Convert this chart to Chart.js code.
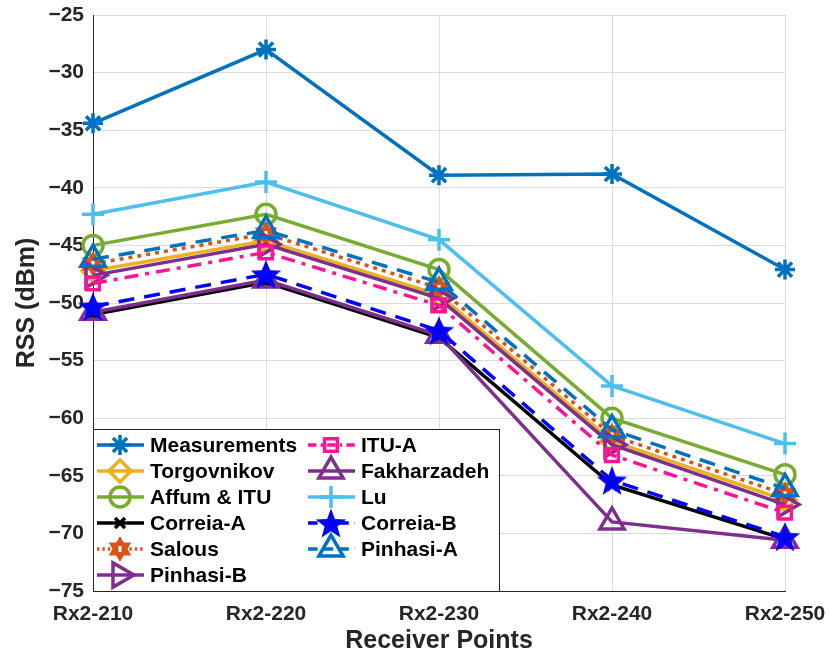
<!DOCTYPE html>
<html>
<head>
<meta charset="utf-8">
<script src="https://cdn.jsdelivr.net/npm/chart.js@4.4.1/dist/chart.umd.min.js"></script>
<style>
  html, body { margin: 0; padding: 0; background: #fff; }
  #wrap { width: 831px; height: 656px; }
</style>
</head>
<body>
<div id="wrap"><canvas id="rss" width="831" height="656"></canvas></div>
<script>
// receiver points on the x axis
const receiverPoints = ['Rx2-210', 'Rx2-220', 'Rx2-230', 'Rx2-240', 'Rx2-250'];
const yTicks = [-25, -30, -35, -40, -45, -50, -55, -60, -65, -70, -75];

// RSS values (dBm)
const measurements = [-34.4, -28.0, -38.9, -38.8, -47.1];
const torgovnikov  = [-47.2, -44.6, -49.3, -62.0, -67.1];
const affumItu     = [-45.0, -42.3, -47.1, -60.0, -64.9];
const correiaA     = [-51.0, -48.2, -53.0, -65.8, -70.5];
const salous       = [-46.6, -44.0, -48.7, -61.5, -66.6];
const pinhasiB     = [-47.6, -44.9, -49.6, -62.3, -67.5];
const ituA         = [-48.3, -45.6, -50.2, -63.2, -68.2];
const fakharzadeh  = [-50.8, -48.0, -52.8, -69.0, -70.6];
const lu           = [-42.3, -39.5, -44.5, -57.2, -62.2];
const correiaB     = [-50.3, -47.5, -52.4, -65.4, -70.3];
const pinhasiA     = [-46.2, -43.7, -48.2, -61.0, -66.1];

// custom marker images
function hexagram(color, r) {
  const c = document.createElement('canvas');
  c.width = c.height = r * 2 + 4;
  const g = c.getContext('2d');
  const cx = r + 2, cy = r + 2;
  g.fillStyle = color;
  for (const off of [-Math.PI / 2, Math.PI / 2]) {
    g.beginPath();
    for (let i = 0; i < 3; i++) {
      const a = off + i * 2 * Math.PI / 3;
      g.lineTo(cx + r * Math.cos(a), cy + r * Math.sin(a));
    }
    g.closePath();
    g.fill();
  }
  g.fillStyle = '#fff';
  g.fillRect(cx - 1.5, cy - 3, 3, 6);
  return c;
}
function star5(color, r) {
  const c = document.createElement('canvas');
  c.width = c.height = r * 2 + 4;
  const g = c.getContext('2d');
  const cx = r + 2, cy = r + 2;
  g.fillStyle = color;
  g.beginPath();
  for (let i = 0; i < 10; i++) {
    const rr = i % 2 === 0 ? r : r * 0.42;
    const a = -Math.PI / 2 + i * Math.PI / 5;
    g.lineTo(cx + rr * Math.cos(a), cy + rr * Math.sin(a) + 1.5);
  }
  g.closePath();
  g.fill();
  return c;
}
const salousMark = hexagram('#D95319', 13);
const starMark = star5('#0000FF', 16);

const series = [
  { label: 'Measurements', data: measurements, color: '#0072BD', style: 'star', r: 10, dash: [] },
  { label: 'Torgovnikov', data: torgovnikov, color: '#EDB120', style: 'rectRot', r: 11, dash: [] },
  { label: 'Affum & ITU', data: affumItu, color: '#77AC30', style: 'circle', r: 10, dash: [] },
  { label: 'Correia-A', data: correiaA, color: '#000000', style: 'crossRot', r: 7, dash: [] },
  { label: 'Salous', data: salous, color: '#D95319', style: salousMark, r: 13, dash: [4, 5] },
  { label: 'Pinhasi-B', data: pinhasiB, color: '#7E2F8E', style: 'triangle', r: 14, rot: 90, dash: [] },
  { label: 'ITU-A', data: ituA, color: '#FF1493', style: 'rect', r: 9, dash: [14, 7, 4, 7] },
  { label: 'Fakharzadeh', data: fakharzadeh, color: '#7E2F8E', style: 'triangle', r: 14, dash: [] },
  { label: 'Lu', data: lu, color: '#4DBEEE', style: 'cross', r: 11, dash: [] },
  { label: 'Correia-B', data: correiaB, color: '#0000FF', style: starMark, r: 16, dash: [16, 10] },
  { label: 'Pinhasi-A', data: pinhasiA, color: '#0072BD', style: 'triangle', r: 14, dash: [16, 10] }
];

const datasets = series.map((s, i) => ({
  label: s.label,
  data: s.data,
  borderColor: s.color,
  backgroundColor: 'rgba(0,0,0,0)',
  borderWidth: 3.5,
  borderDash: s.dash,
  pointStyle: s.style,
  pointRadius: s.r,
  pointRotation: s.rot || 0,
  pointBorderWidth: 3.5,
  pointBorderColor: s.color,
  pointBackgroundColor: 'rgba(0,0,0,0)',
  tension: 0,
  clip: false,
  order: series.length - i
}));

// legend drawn inside the plot (lower left), two columns like the original
const insideLegend = {
  id: 'insideLegend',
  afterDraw(chart) {
    const ctx = chart.ctx;
    const left = 93, top = 429, right = 500, bottom = 592;
    ctx.save();
    ctx.fillStyle = '#fff';
    ctx.fillRect(left, top, right - left, bottom - top);
    ctx.strokeStyle = '#262626';
    ctx.lineWidth = 1;
    ctx.strokeRect(left + 0.5, top + 0.5, right - left - 1, bottom - top - 1);
    const rowY = [445, 471, 497, 523, 549, 575];
    series.forEach((s, i) => {
      const col = i < 6 ? 0 : 1;
      const row = i < 6 ? i : i - 6;
      const x0 = col === 0 ? 97 : 308;
      const y = rowY[row];
      ctx.strokeStyle = s.color;
      ctx.lineWidth = 3.5;
      ctx.setLineDash(s.dash.length ? s.dash.map(v => v * 0.6) : []);
      ctx.beginPath();
      ctx.moveTo(x0, y);
      ctx.lineTo(x0 + 47, y);
      ctx.stroke();
      ctx.setLineDash([]);
      ctx.fillStyle = 'rgba(0,0,0,0)';
      Chart.helpers.drawPoint(ctx, {
        pointStyle: s.style, radius: s.r, rotation: s.rot || 0, borderWidth: 3.5
      }, x0 + 23, y);
      ctx.fillStyle = '#000';
      ctx.font = 'bold 21px "Liberation Sans", Arial, sans-serif';
      ctx.textBaseline = 'middle';
      ctx.fillText(s.label, x0 + 53, y + 1);
    });
    ctx.restore();
  }
};

const tickFont = { family: '"Liberation Sans", Arial, sans-serif', size: 21, weight: 'bold' };
const titleFont = { family: '"Liberation Sans", Arial, sans-serif', size: 25, weight: 'bold' };

new Chart(document.getElementById('rss').getContext('2d'), {
  type: 'line',
  data: { labels: receiverPoints, datasets: datasets },
  options: {
    responsive: false,
    animation: false,
    layout: { autoPadding: false, padding: { top: 15, right: 46, left: 12, bottom: 0 } },
    plugins: { legend: { display: false }, tooltip: { enabled: false } },
    scales: {
      x: {
        offset: false,
        grid: { color: '#dcdcdc', lineWidth: 1, tickLength: 0 },
        border: { color: '#262626', width: 1 },
        ticks: { color: '#262626', font: tickFont, maxRotation: 0, autoSkip: false, padding: 11 },
        title: { display: true, text: 'Receiver Points', color: '#262626', font: titleFont, padding: { top: 0, bottom: 0 } },
        afterFit(scale) { scale.height = 65; scale.paddingLeft = 0; scale.paddingRight = 0; }
      },
      y: {
        min: -75,
        max: -25,
        afterBuildTicks(scale) { scale.ticks = yTicks.map(v => ({ value: v })); },
        grid: { color: '#dcdcdc', lineWidth: 1, tickLength: 0 },
        border: { color: '#262626', width: 1 },
        ticks: {
          color: '#262626', font: tickFont, padding: 9,
          callback: v => String(v).replace('-', '\u2212')
        },
        title: { display: true, text: 'RSS (dBm)', color: '#262626', font: titleFont, padding: { top: 0, bottom: 4 } },
        afterFit(scale) { scale.width = 81; scale.paddingTop = 0; scale.paddingBottom = 0; }
      }
    }
  },
  plugins: [insideLegend]
});
</script>
</body>
</html>
